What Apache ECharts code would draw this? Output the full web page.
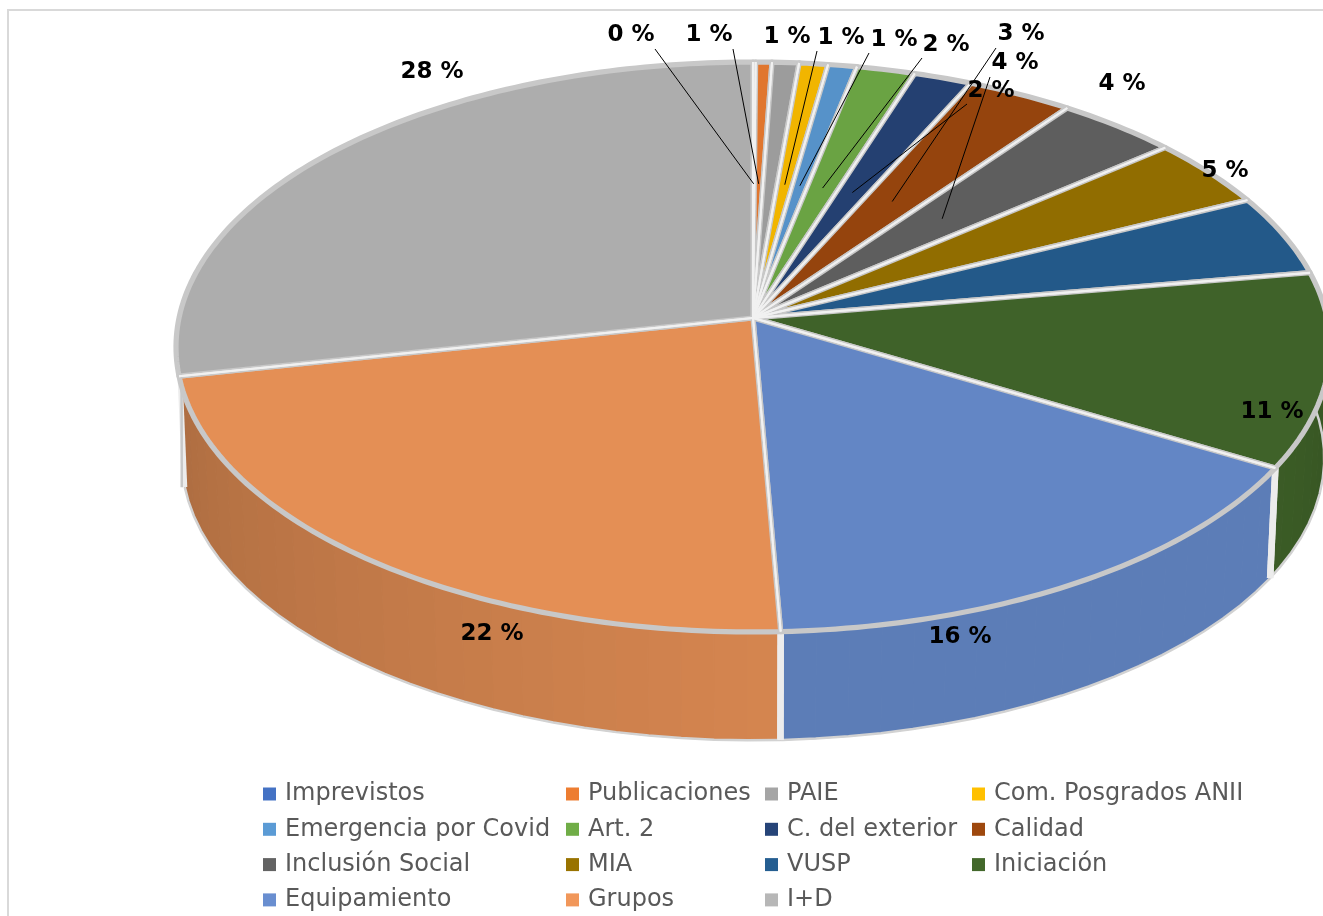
<!DOCTYPE html>
<html><head><meta charset="utf-8">
<style>html,body{margin:0;padding:0;background:#fff}#c{width:1323px;height:916px}</style>
<script src="https://cdn.jsdelivr.net/npm/echarts@6/dist/echarts.min.js"></script></head>
<body><div id="c"></div>
<script>
var categories=['Imprevistos','Publicaciones','PAIE','Com. Posgrados ANII','Emergencia por Covid','Art. 2','C. del exterior','Calidad','Inclusión Social','MIA','VUSP','Iniciación','Equipamiento','Grupos','I+D'];
var shares=[0.08,0.5,0.83,0.89,0.89,1.81,1.81,3.28,3.78,3.94,4.58,11.03,15.89,22.45,28.24];
var colors=['#4472C4','#ED7D31','#A5A5A5','#FFC000','#5B9BD5','#70AD47','#264478','#9E480E','#636363','#997300','#255E91','#43682B','#698ED0','#F1975A','#B7B7B7'];
var labelCenters=[[631,35],[709,35],[787,37],[841,38],[894,40],[946,45],[991,91],[1021,34],[1015,63],[1122,84],[1225,171],[1272,412],[960,637],[492,634],[432,72]];
var leaderStarts=[[655,49],[733,49],null,[817,51],[869,53],[922,58],[967,104],[996,48],[990,77],null,null,null,null,null,null];
var legendColumns=[[0,4,8,12],[1,5,9,13],[2,6,10,14],[3,7,11]];
var legendLeft=[258,561,760,967];

var cx=753,cy=318,a=574,b=282,k=0.1018,depth=111.5,shrink=0.99;
function proj(t,r,low){
  var th=t*Math.PI/180,X=r*Math.sin(th),Y=-r*Math.cos(th),w=1-k*Y,s=low?shrink:1;
  return [cx+s*a*X/w, cy+s*b*Y/w+(low?depth:0)];
}
function shade(hex,f){
  var n=parseInt(hex.slice(1),16);
  return 'rgb('+[n>>16&255,n>>8&255,n&255].map(function(c){return Math.round(c*f)}).join(',')+')';
}
function sideFactor(t){
  if(t<120) return 0.80+0.08*(t-90)/30;
  if(t<180) return 0.88;
  return 0.88-0.16*(t-180)/78;
}
var total=shares.reduce(function(p,c){return p+c},0);
var starts=[],acc=0;
shares.forEach(function(v){starts.push(acc);acc+=v});
function toDeg(v){return v/total*360}

function renderSlice(params,api){
  var i=params.seriesIndex,t0=toDeg(starts[i]),t1=t0+toDeg(api.value(0));
  var kids=[],col=colors[i],pts=[[cx,cy]],t;
  var n=Math.max(2,Math.ceil(t1-t0));
  for(var j=0;j<=n;j++){pts.push(proj(t0+(t1-t0)*j/n,1,false))}
  var lo=Math.max(t0,85),hi=Math.min(t1,262);
  if(hi>lo&&t0<250){
    var step=3,under=[];
    for(t=lo;t<hi;t+=step){
      var e=Math.min(t+step,hi);
      var c=shade(col,sideFactor((t+e)/2));
      kids.push({type:'polygon',z2:1,shape:{points:[proj(t,1,false),proj(e,1,false),proj(e,1,true),proj(t,1,true)]},
        style:{fill:c,stroke:c,lineWidth:1}});
      under.push(proj(t,1,true));
    }
    under.push(proj(hi,1,true));
    kids.push({type:'polyline',z2:3,shape:{points:under},style:{fill:null,stroke:'#D2D2D2',lineWidth:2.5}});
    [t0,t1].forEach(function(w){
      if(w>=90&&w<=262){
        var u=proj(w,1,false),d=proj(w,1,true);
        kids.push({type:'line',z2:3,shape:{x1:u[0]+(w>250?1:0),y1:u[1],x2:d[0],y2:d[1]},style:{stroke:'#ECECEC',lineWidth:w>250?5:6.5}});
        if(w>250){
          var top=proj(272,1,false);
          kids.push({type:'line',z2:3,shape:{x1:top[0],y1:top[1],x2:d[0]-3,y2:d[1]},style:{stroke:'#C8C8C8',lineWidth:2.5}});
        }
      }
    });
  }
  kids.push({type:'polygon',z2:4,shape:{points:pts},style:{fill:shade(col,0.945),stroke:'#C8C8C8',lineWidth:5.2,lineJoin:'round'}});
  var p0=proj(t0,1,false),p1=proj(t1,1,false);
  [p0,p1].forEach(function(p){
    kids.push({type:'line',z2:5,shape:{x1:cx,y1:cy,x2:p[0],y2:p[1]},style:{stroke:'#F1F1F1',lineWidth:2}});
  });
  return {type:'group',children:kids};
}
function renderLabel(params,api){
  var i=api.value(0),kids=[];
  var mid=toDeg(starts[i]+shares[i]/2);
  if(leaderStarts[i]){
    var e=proj(mid,0.5,false);
    kids.push({type:'line',z2:8,shape:{x1:leaderStarts[i][0],y1:leaderStarts[i][1],x2:e[0],y2:e[1]},style:{stroke:'#000',lineWidth:1}});
  }
  kids.push({type:'text',z2:9,style:{x:labelCenters[i][0],y:labelCenters[i][1],text:Math.round(shares[i])+' %',
    fill:'#000',font:'bold 23px "DejaVu Sans"',align:'center',verticalAlign:'middle'}});
  return {type:'group',children:kids};
}
var series=categories.map(function(name,i){
  return {type:'custom',name:name,coordinateSystem:'none',silent:true,animation:false,clip:false,
    itemStyle:{color:colors[i]},data:[[shares[i]]],renderItem:renderSlice};
});
series.push({type:'custom',name:'etiquetas',coordinateSystem:'none',silent:true,animation:false,z:5,
  data:categories.map(function(c,i){return [i]}),renderItem:renderLabel});
var legends=legendColumns.map(function(col,i){
  return {orient:'vertical',left:legendLeft[i],top:777,height:300,icon:'rect',itemWidth:13,itemHeight:13,itemGap:11.3,selectedMode:false,
    textStyle:{fontFamily:'DejaVu Sans',fontSize:24,color:'#595959',lineHeight:24,padding:[0,0,0,4]},
    data:col.map(function(c){return categories[c]})};
});
var chart=echarts.init(document.getElementById('c'),null,{renderer:'canvas'});
chart.setOption({
  animation:false,backgroundColor:'#fff',
  graphic:[{type:'rect',silent:true,z:-1,shape:{x:8,y:10,width:1340,height:1000},style:{fill:'#fff',stroke:'#D9D9D9',lineWidth:2}}],
  legend:legends,series:series
});
</script></body></html>
